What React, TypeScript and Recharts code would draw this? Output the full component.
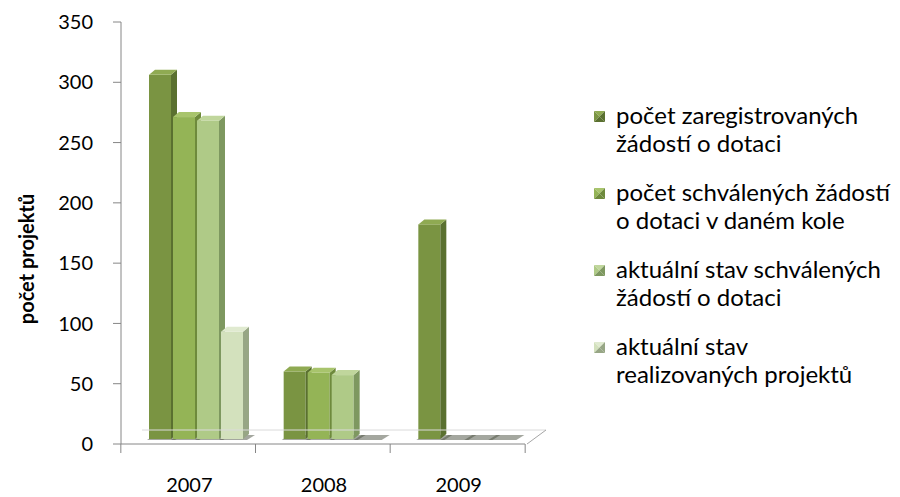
import React from 'react';
import { BarChart, Bar, XAxis, YAxis, Legend, ReferenceLine, Label } from 'recharts';

const categories = ['2007', '2008', '2009'];
const registered = [302, 56, 178];
const approvedRound = [267, 55, 0];
const approvedCurrent = [264, 53, 0];
const realized = [89, 0, 0];
const seriesNames = [
  'počet zaregistrovaných\nžádostí o dotaci',
  'počet schválených žádostí\no dotaci v daném kole',
  'aktuální stav schválených\nžádostí o dotaci',
  'aktuální stav\nrealizovaných projektů',
];
const yTicks = [0, 50, 100, 150, 200, 250, 300, 350];
const yTitle = 'počet projektů';

const palette = [
  { front: '#7A9442', side: '#5A7030', top: '#8FAA52' },
  { front: '#94B456', side: '#6E8A3C', top: '#A8C46C' },
  { front: '#AFCA87', side: '#7E9860', top: '#C0D69C' },
  { front: '#D3E1BD', side: '#97A685', top: '#E0EAD0' },
];

const seriesValues = [registered, approvedRound, approvedCurrent, realized];
const data = categories.map((c, i) => {
  const row: any = { year: c };
  seriesValues.forEach((s, k) => {
    row['s' + k] = s[i];
  });
  return row;
});

const SHIFT_X = 8;
const SHIFT_Y = -5;
const DEPTH_X = 6;
const DEPTH_Y = 5;

const make3DShape = (k: number) => (props: any) => {
  const { x, y, width, height } = props;
  const c = palette[k];
  const bx = x + SHIFT_X;
  const top = y + SHIFT_Y;
  const bottom = y + height + SHIFT_Y;
  const w = width;
  const h = bottom - top;
  return (
    <g>
      <polygon
        points={`${bx - 2},${bottom + 1} ${bx + w + 4},${bottom + 1} ${bx + w + DEPTH_X + 6},${bottom - DEPTH_Y + 1} ${bx + DEPTH_X},${bottom - DEPTH_Y + 1}`}
        fill="#4a4f40"
        opacity={0.5}
      />
      {h > 0.5 && (
        <g>
          <rect x={bx} y={top} width={w} height={h} fill={c.front} />
          <polygon
            points={`${bx + w},${top} ${bx + w + DEPTH_X},${top - DEPTH_Y} ${bx + w + DEPTH_X},${bottom - DEPTH_Y} ${bx + w},${bottom}`}
            fill={c.side}
          />
          <polygon
            points={`${bx},${top} ${bx + DEPTH_X},${top - DEPTH_Y} ${bx + w + DEPTH_X},${top - DEPTH_Y} ${bx + w},${top}`}
            fill={c.top}
          />
        </g>
      )}
    </g>
  );
};

const FloorShape = (props: any) => {
  const { x1, y1, x2, y2 } = props;
  if (x1 == null) return null;
  return (
    <g>
      <line x1={x1 + 21} y1={y1 - 14} x2={x2 + 21} y2={y2 - 14} stroke="#DADADA" strokeWidth={1} />
      <line x1={x2 + 2} y1={y2} x2={x2 + 21} y2={y2 - 14} stroke="#A6A6A6" strokeWidth={1} />
    </g>
  );
};

const BAND = 135;

const XTick = (props: any) => {
  const { x, y, payload, index, visibleTicksCount } = props;
  return (
    <g>
      <line x1={x - BAND / 2} y1={y} x2={x - BAND / 2} y2={y + 9} stroke="#868686" />
      {index === visibleTicksCount - 1 && (
        <line x1={x + BAND / 2} y1={y} x2={x + BAND / 2} y2={y + 9} stroke="#868686" />
      )}
      <text x={x + 1} y={y + 48} textAnchor="middle" fontSize={20} fill="#000">
        {payload.value}
      </text>
    </g>
  );
};

const YLabel = (props: any) => {
  const vb = props.viewBox || {};
  const cx = (vb.x || 0) + 26;
  const cy = (vb.y || 0) + (vb.height || 0) / 2 + 26;
  return (
    <text
      x={cx}
      y={cy}
      transform={`rotate(-90 ${cx} ${cy})`}
      textAnchor="middle"
      dominantBaseline="central"
      fontSize={20}
      fontWeight={700}
      fill="#000"
    >
      {yTitle}
    </text>
  );
};

const Marker = ({ k }: { k: number }) => {
  const c = palette[k];
  return (
    <svg width={11} height={11} style={{ display: 'block' }}>
      <polygon points="0,0 11,0 5.5,5.5" fill={c.top} />
      <polygon points="0,0 5.5,5.5 0,11" fill={c.front} />
      <polygon points="11,0 11,11 5.5,5.5" fill={c.side} />
      <polygon points="0,11 11,11 5.5,5.5" fill={c.side} />
    </svg>
  );
};

const LegendContent = () => (
  <div style={{ fontFamily: 'Lato', fontSize: 24, lineHeight: '28px', color: '#000', textAlign: 'left' }}>
    {seriesNames.map((n, k) => (
      <div key={k} style={{ display: 'flex', alignItems: 'flex-start', marginBottom: k < 3 ? 21 : 0 }}>
        <div style={{ width: 22, paddingTop: 10, flex: 'none' }}>
          <Marker k={k} />
        </div>
        <div style={{ whiteSpace: 'pre-line' }}>{n}</div>
      </div>
    ))}
  </div>
);

export default function App() {
  return (
    <div style={{ position: 'absolute', left: 0, top: 0, width: 900, height: 497, fontFamily: 'Lato', background: '#fff' }}>
      <BarChart
        width={900}
        height={497}
        data={data}
        margin={{ top: 22, right: 375, bottom: 0, left: 0 }}
        barSize={22}
        barGap={2}
      >
        <XAxis
          dataKey="year"
          height={53}
          axisLine={{ stroke: '#868686' }}
          tickLine={false}
          tickSize={0}
          tickMargin={0}
          tick={<XTick />}
          interval={0}
        />
        <YAxis
          width={121}
          domain={[0, 350]}
          ticks={yTicks}
          interval={0}
          axisLine={{ stroke: '#868686' }}
          tickLine={{ stroke: '#868686' }}
          tickSize={8}
          tickMargin={20}
          tick={{ fontSize: 20, fill: '#000' }}
        >
          <Label content={<YLabel />} />
        </YAxis>
        <ReferenceLine y={0} shape={FloorShape} ifOverflow="visible" />
        {seriesNames.map((n, k) => (
          <Bar
            key={k}
            dataKey={'s' + k}
            name={n}
            fill={palette[k].front}
            shape={make3DShape(k)}
            isAnimationActive={false}
          />
        ))}
        <Legend
          layout="horizontal"
          verticalAlign="middle"
          align="center"
          wrapperStyle={{ left: 594, top: 101, right: 'auto', width: 306 }}
          content={<LegendContent />}
        />
      </BarChart>
    </div>
  );
}
